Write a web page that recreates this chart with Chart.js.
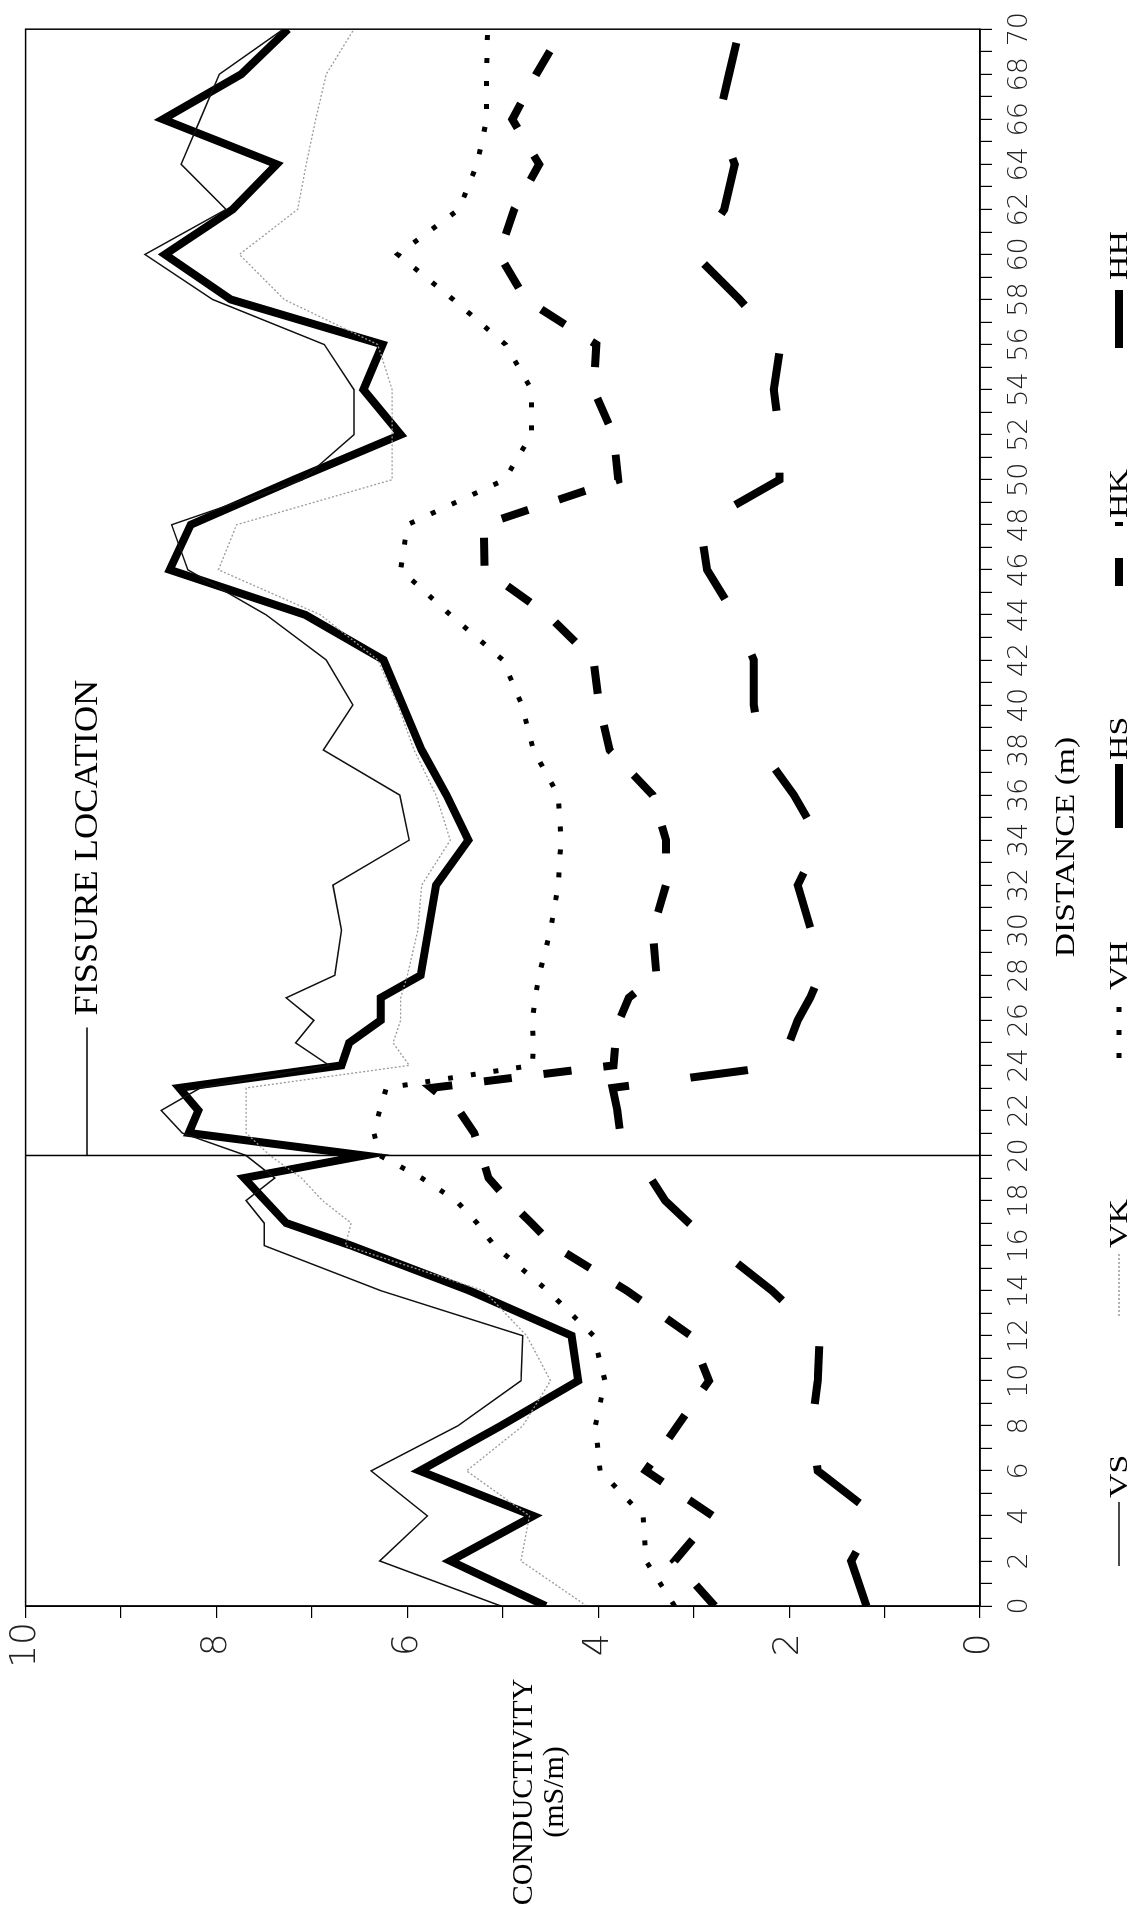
<!DOCTYPE html>
<html>
<head>
<meta charset="utf-8">
<title>Conductivity profile</title>
<script src="https://cdn.jsdelivr.net/npm/chart.js@4.4.0/dist/chart.umd.min.js"></script>
<style>
  html, body { margin: 0; padding: 0; background: #fff; overflow: hidden; }
  /* the plot is laid out landscape and turned a quarter turn for the page */
  #wrap {
    position: absolute; left: 0; top: 0;
    width: 1910px; height: 1139px;
    transform-origin: 0 0;
    transform: translate(0, 1910px) rotate(-90deg);
  }
</style>
</head>
<body>
<div id="wrap"><canvas id="profile" width="1910" height="1139"></canvas></div>
<script>
// station positions along the line (m), 1 m spacing near the fissure
var distance = [0, 2, 4, 6, 8, 10, 12, 14, 16, 17, 18, 19, 20, 21, 22, 23, 24, 25, 26, 27, 28,
  30, 32, 34, 36, 38, 40, 42, 44, 46, 48, 50, 52, 54, 56, 58, 60, 62, 64, 66, 68, 70];

// conductivity readings (mS/m)
var vs = [5.02, 6.29, 5.79, 6.38, 5.47, 4.81, 4.79, 6.28, 7.50, 7.50, 7.69, 7.39, 7.69, 8.36, 8.58, 8.17, 6.82, 7.17, 6.98, 7.27, 6.76,
  6.69, 6.78, 5.98, 6.08, 6.88, 6.57, 6.85, 7.48, 8.30, 8.47, 7.10, 6.56, 6.56, 6.87, 8.04, 8.75, 7.90, 8.37, 8.17, 7.97, 7.30];
var vk = [4.12, 4.81, 4.72, 5.38, 4.79, 4.50, 4.75, 5.20, 6.65, 6.59, 6.89, 7.11, 7.44, 7.69, 7.69, 7.69, 5.98, 6.15, 6.07, 6.07, 6.00,
  5.89, 5.85, 5.55, 5.70, 5.93, 6.10, 6.31, 6.91, 7.98, 7.79, 6.16, 6.16, 6.16, 6.31, 7.29, 7.76, 7.15, 7.06, 6.96, 6.85, 6.56];
var vh = [3.20, 3.50, 3.53, 3.98, 4.03, 3.93, 4.05, 4.53, 5.09, 5.27, 5.49, 5.85, 6.29, 6.35, 6.29, 6.22, 4.69, 4.68, 4.69, 4.66, 4.62,
  4.50, 4.42, 4.39, 4.42, 4.68, 4.80, 5.00, 5.55, 6.07, 6.00, 4.98, 4.70, 4.70, 4.97, 5.52, 6.10, 5.46, 5.27, 5.17, 5.17, 5.16];
var hs = [4.55, 5.55, 4.68, 5.87, 5.02, 4.21, 4.28, 5.35, 6.59, 7.27, 7.49, 7.71, 6.45, 8.29, 8.19, 8.39, 6.69, 6.61, 6.28, 6.28, 5.86,
  5.78, 5.70, 5.36, 5.59, 5.85, 6.05, 6.25, 7.07, 8.49, 8.27, 7.19, 6.07, 6.46, 6.26, 7.85, 8.54, 7.83, 7.37, 8.56, 7.74, 7.25];
var hk = [2.78, 3.20, 2.80, 3.50, 3.17, 2.84, 3.03, 3.70, 4.47, 4.70, 4.94, 5.15, 5.22, 5.30, 5.46, 5.75, 3.84, 3.82, 3.78, 3.68, 3.39,
  3.43, 3.29, 3.29, 3.43, 3.88, 3.99, 4.05, 4.53, 5.19, 5.20, 3.79, 3.84, 4.05, 4.02, 4.76, 5.04, 4.88, 4.62, 4.90, 4.65, 4.37];
var hh = [1.19, 1.35, 1.09, 1.70, 1.76, 1.70, 1.68, 2.18, 2.78, 3.05, 3.30, 3.45, 3.56, 3.77, 3.80, 3.85, 2.06, 2.00, 1.91, 1.78, 1.68,
  1.77, 1.91, 1.68, 1.95, 2.29, 2.37, 2.37, 2.57, 2.86, 2.93, 2.10, 2.10, 2.16, 2.09, 2.52, 2.99, 2.68, 2.57, 2.74, 2.63, 2.52];

var seriesNames = ['VS', 'VK', 'VH', 'HS', 'HK', 'HH'];
var distanceLabels = [0, 2, 4, 6, 8, 10, 12, 14, 16, 18, 20, 22, 24, 26, 28, 30, 32, 34,
  36, 38, 40, 42, 44, 46, 48, 50, 52, 54, 56, 58, 60, 62, 64, 66, 68, 70];
var conductivityLabels = [0, 2, 4, 6, 8, 10];
var fissureAt = 20;

function pts(vals) {
  return distance.map(function (d, i) { return { x: d, y: vals[i] }; });
}

var serif = '"Liberation Serif", "DejaVu Serif", serif';

// text squeezed/stretched along the baseline
function wideText(ctx, text, x, y, sx, align) {
  ctx.save();
  ctx.translate(x, y);
  ctx.scale(sx, 1);
  ctx.textAlign = align;
  ctx.fillText(text, 0, 0);
  ctx.restore();
}

// frame, fissure marker, axis captions and key
var annotate = {
  id: 'annotate',
  afterDatasetsDraw: function (chart) {
    var ctx = chart.ctx;
    var a = chart.chartArea;
    var fx = chart.scales.x.getPixelForValue(fissureAt);
    ctx.save();
    ctx.strokeStyle = '#000';
    ctx.fillStyle = '#000';
    ctx.lineWidth = 1.5;
    ctx.strokeRect(a.left, a.top, a.right - a.left, a.bottom - a.top);

    ctx.beginPath();
    ctx.moveTo(fx, a.top);
    ctx.lineTo(fx, a.bottom);
    ctx.stroke();

    ctx.lineWidth = 1.3;
    ctx.beginPath();
    ctx.moveTo(fx, 87);
    ctx.lineTo(fx + 128, 87);
    ctx.stroke();
    ctx.textBaseline = 'middle';
    ctx.font = '33px ' + serif;
    wideText(ctx, 'FISSURE LOCATION', fx + 140, 88, 1.1, 'left');

    ctx.font = '30px ' + serif;
    wideText(ctx, 'CONDUCTIVITY', 118, 524, 1, 'center');
    wideText(ctx, '(mS/m)', 118, 555, 1, 'center');
    ctx.font = '28px ' + serif;
    wideText(ctx, 'DISTANCE (m)', 1063, 1067, 1.2, 'center');

    // key along the bottom edge
    var keyY = 1119;
    var keyX = [412, 662, 920, 1150, 1392, 1630];
    ctx.font = '26px ' + serif;
    chart.data.datasets.forEach(function (ds, i) {
      var tx = keyX[i];
      ctx.save();
      ctx.strokeStyle = ds.borderColor;
      ctx.lineWidth = ds.borderWidth;
      ctx.setLineDash(ds.borderDash || []);
      ctx.beginPath();
      ctx.moveTo(tx - 68, keyY);
      ctx.lineTo(tx - 4, keyY);
      ctx.stroke();
      ctx.restore();
      wideText(ctx, ds.label, tx, keyY + 1, 1.3, 'left');
    });
    ctx.restore();
  }
};

var ctx = document.getElementById('profile').getContext('2d');
var myChart = new Chart(ctx, {
  type: 'line',
  data: {
    datasets: [
      { label: seriesNames[0], data: pts(vs), borderColor: '#111', borderWidth: 1.5 },
      { label: seriesNames[1], data: pts(vk), borderColor: '#9a9a9a', borderWidth: 1.3, borderDash: [2, 2] },
      { label: seriesNames[2], data: pts(vh), borderColor: '#000', borderWidth: 5, borderDash: [5, 18] },
      { label: seriesNames[3], data: pts(hs), borderColor: '#000', borderWidth: 8 },
      { label: seriesNames[4], data: pts(hk), borderColor: '#000', borderWidth: 8, borderDash: [28, 32] },
      { label: seriesNames[5], data: pts(hh), borderColor: '#000', borderWidth: 8, borderDash: [58, 62] }
    ]
  },
  options: {
    responsive: false,
    animation: false,
    devicePixelRatio: 1,
    layout: { padding: { left: 244, right: 26, top: 24, bottom: 99 } },
    elements: {
      line: { tension: 0, fill: false, borderJoinStyle: 'miter' },
      point: { radius: 0, hoverRadius: 0 }
    },
    plugins: { legend: { display: false }, tooltip: { enabled: false } },
    scales: {
      x: {
        type: 'linear',
        min: 0,
        max: 70,
        afterBuildTicks: function (scale) {
          var t = [];
          for (var v = 0; v <= 70; v++) t.push({ value: v });
          scale.ticks = t;
        },
        afterFit: function (scale) { scale.height = 60; },
        ticks: {
          autoSkip: false,
          maxRotation: 0,
          padding: 12,
          color: '#222',
          font: { family: '"DejaVu Sans", sans-serif', size: 27, weight: '200' },
          callback: function (v) { return distanceLabels.indexOf(v) >= 0 ? String(v) : ''; }
        },
        grid: { drawOnChartArea: false, tickLength: 12, color: '#000', lineWidth: 1.2 },
        border: { display: true, color: '#000', width: 1.5 }
      },
      y: {
        min: 0,
        max: 10,
        afterBuildTicks: function (scale) {
          var t = [];
          for (var v = 0; v <= 10; v++) t.push({ value: v });
          scale.ticks = t;
        },
        afterFit: function (scale) { scale.width = 60; },
        ticks: {
          padding: 4,
          crossAlign: 'center',
          color: '#222',
          font: { family: '"DejaVu Sans", sans-serif', size: 36, weight: '200' },
          callback: function (v) { return conductivityLabels.indexOf(v) >= 0 ? String(v) : ''; }
        },
        grid: { drawOnChartArea: false, tickLength: 12, color: '#000', lineWidth: 1.2 },
        border: { display: true, color: '#000', width: 1.5 }
      }
    }
  },
  plugins: [annotate]
});
</script>
</body>
</html>
